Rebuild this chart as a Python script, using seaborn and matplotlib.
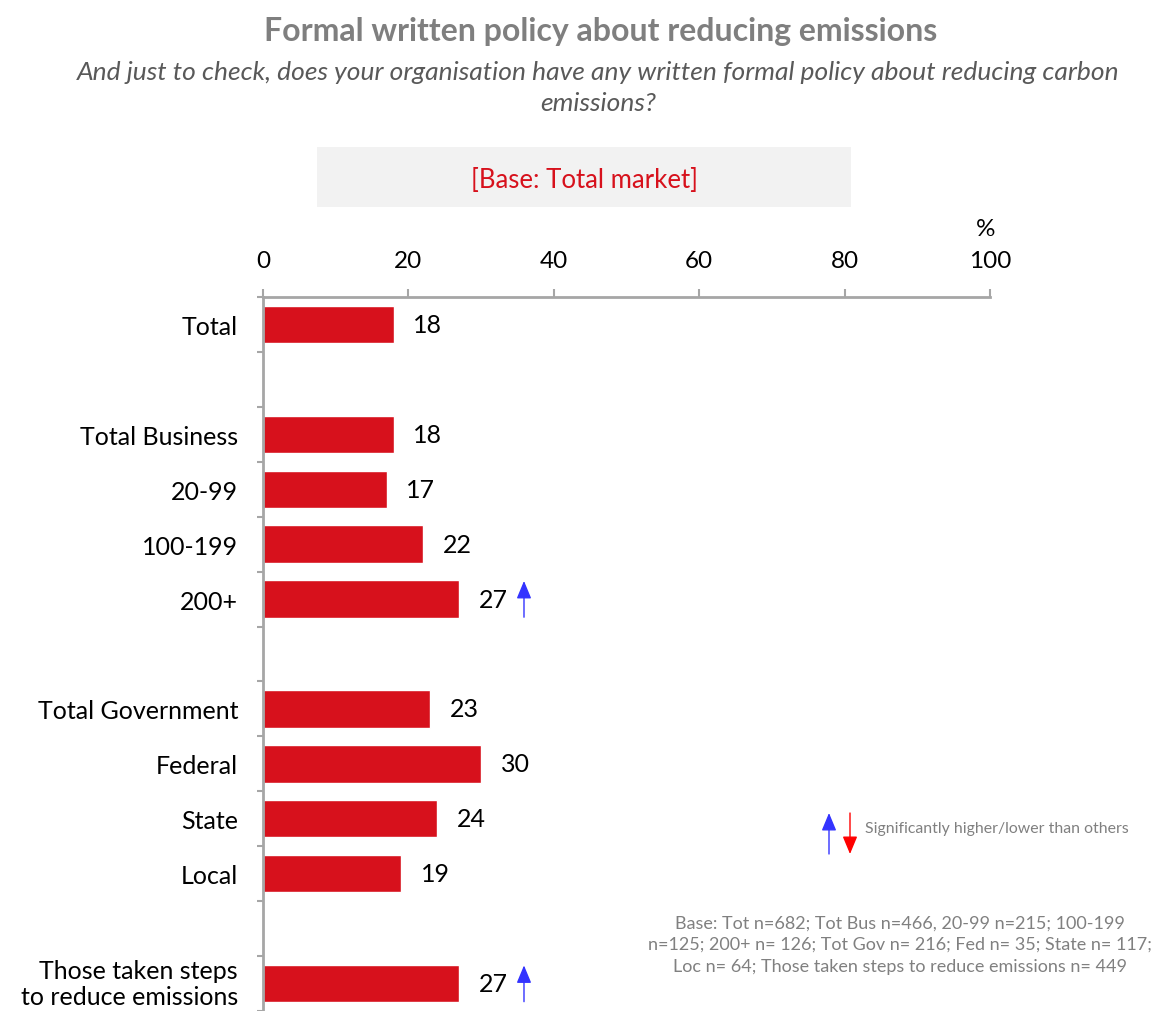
import numpy as np
import pandas as pd
import matplotlib
matplotlib.use("Agg")
import matplotlib.pyplot as plt
import matplotlib.transforms as mtransforms
import seaborn as sns
from matplotlib.patches import Rectangle, FancyArrowPatch

# Rows in display order; blank strings are spacer rows between groups
categories = ["Total", " ", "Total Business", "20-99", "100-199", "200+", "  ",
              "Total Government", "Federal", "State", "Local", "   ",
              "Those taken steps\nto reduce emissions"]
values = [18, None, 18, 17, 22, 27, None, 23, 30, 24, 19, None, 27]
# +1 = significantly higher than others, -1 = significantly lower
significance = [0, 0, 0, 0, 0, 1, 0, 0, 0, 0, 0, 0, 1]
x_ticks = [0, 20, 40, 60, 80, 100]

title = "Formal written policy about reducing emissions"
subtitle = ("And just to check, does your organisation have any written formal policy about reducing carbon\n"
            "emissions?")
base_label = "[Base: Total market]"
legend_text = "Significantly higher/lower than others"
base_note = ("Base: Tot n=682; Tot Bus n=466, 20-99 n=215; 100-199\n"
             "n=125; 200+ n= 126; Tot Gov n= 216; Fed n= 35; State n= 117;\n"
             "Loc n= 64; Those taken steps to reduce emissions n= 449")

BAR_RED = "#D7111C"
AXIS_GREY = "#A6A6A6"
UP_BLUE = "#3333FF"
ARROW_STYLE = "-|>,head_length=0.6,head_width=0.25"

sns.set_theme(style="white")
plt.rcParams["font.family"] = ["Lato", "DejaVu Sans"]

df = pd.DataFrame({"group": categories, "pct": values}).dropna()

W, H = 1161, 1012
fig = plt.figure(figsize=(W / 100, H / 100), dpi=100)
ax = fig.add_axes([263 / W, 0.0, (990 - 263) / W, 1 - 298 / H])

sns.barplot(data=df, x="pct", y="group", order=categories, color=BAR_RED,
            saturation=1, width=0.68, ax=ax)

ax.set_xlim(0, 100)
ax.set_ylim(len(categories) - 0.5, -0.5)
ax.set_xlabel("")
ax.set_ylabel("")

# Percentage scale along the top
ax.xaxis.tick_top()
ax.set_xticks(x_ticks)
ax.set_xticklabels([str(t) for t in x_ticks])
ax.tick_params(axis="x", which="major", direction="out", length=6, width=1.5,
               color=AXIS_GREY, labelsize=17.5, pad=13, labelcolor="black")

# Category labels without marks; small marks on row boundaries
ax.set_yticks(range(len(categories)))
ax.set_yticklabels(categories, fontsize=18, color="black", linespacing=1.2)
ax.tick_params(axis="y", which="major", length=0, pad=18)
ax.set_yticks(np.arange(-0.5, len(categories), 1.0), minor=True)
ax.tick_params(axis="y", which="minor", direction="out", length=4, width=1.5,
               color=AXIS_GREY, left=True)

# Lift the two-line label so it stays inside the figure
last = ax.get_yticklabels()[-1]
last.set_transform(last.get_transform() +
                   mtransforms.ScaledTranslation(0, 4 / 100, fig.dpi_scale_trans))

for side in ["right", "bottom"]:
    ax.spines[side].set_visible(False)
for side in ["top", "left"]:
    ax.spines[side].set_color(AXIS_GREY)
    ax.spines[side].set_linewidth(2)

# Value labels and significance arrows
for i, (v, s) in enumerate(zip(values, significance)):
    if v is None:
        continue
    ax.annotate(f"{v:g}", xy=(v, i), xytext=(14, 0), textcoords="offset points",
                va="center", ha="left", fontsize=18, color="black")
    if s != 0:
        ax_x = v + 8.9
        arrow = FancyArrowPatch((ax_x, i + 0.33 * s), (ax_x, i - 0.33 * s),
                                arrowstyle=ARROW_STYLE, mutation_scale=18,
                                color=UP_BLUE if s > 0 else "red", lw=1,
                                shrinkA=0, shrinkB=0, clip_on=False)
        ax.add_patch(arrow)

fig.text(986 / W, 1 - 229 / H, "%", ha="center", va="center",
         fontsize=17.5, color="black")

# Titles
fig.text(601 / W, 1 - 31 / H, title, ha="center", va="center",
         fontsize=23, fontweight="bold", color="#7F7F7F")
fig.text(598 / W, 1 - 88 / H, subtitle, ha="center", va="center",
         fontsize=19, style="italic", color="#595959", linespacing=1.4)

# Base banner
fig.patches.append(Rectangle((317 / W, 1 - 208 / H), (851 - 317) / W, 60 / H,
                             transform=fig.transFigure, facecolor="#F2F2F2",
                             edgecolor="none", zorder=0))
fig.text(584 / W, 1 - 181 / H, base_label, ha="center", va="center",
         fontsize=18.5, color="#D7111C")

# Significance legend
for (x0, y0, y1), col in [((829, 855, 814), UP_BLUE), ((850, 814, 855), "red")]:
    fig.add_artist(FancyArrowPatch(
        (x0 / W, 1 - y0 / H), (x0 / W, 1 - y1 / H), transform=fig.transFigure,
        arrowstyle=ARROW_STYLE, mutation_scale=18, color=col, lw=1,
        shrinkA=0, shrinkB=0))
fig.text(865 / W, 1 - 829 / H, legend_text, ha="left", va="center",
         fontsize=11.4, color="#808080")

fig.text(900 / W, 1 - 945 / H, base_note, ha="center", va="center",
         fontsize=13, color="#808080", linespacing=1.45)

fig.savefig("out.png", dpi=100)
